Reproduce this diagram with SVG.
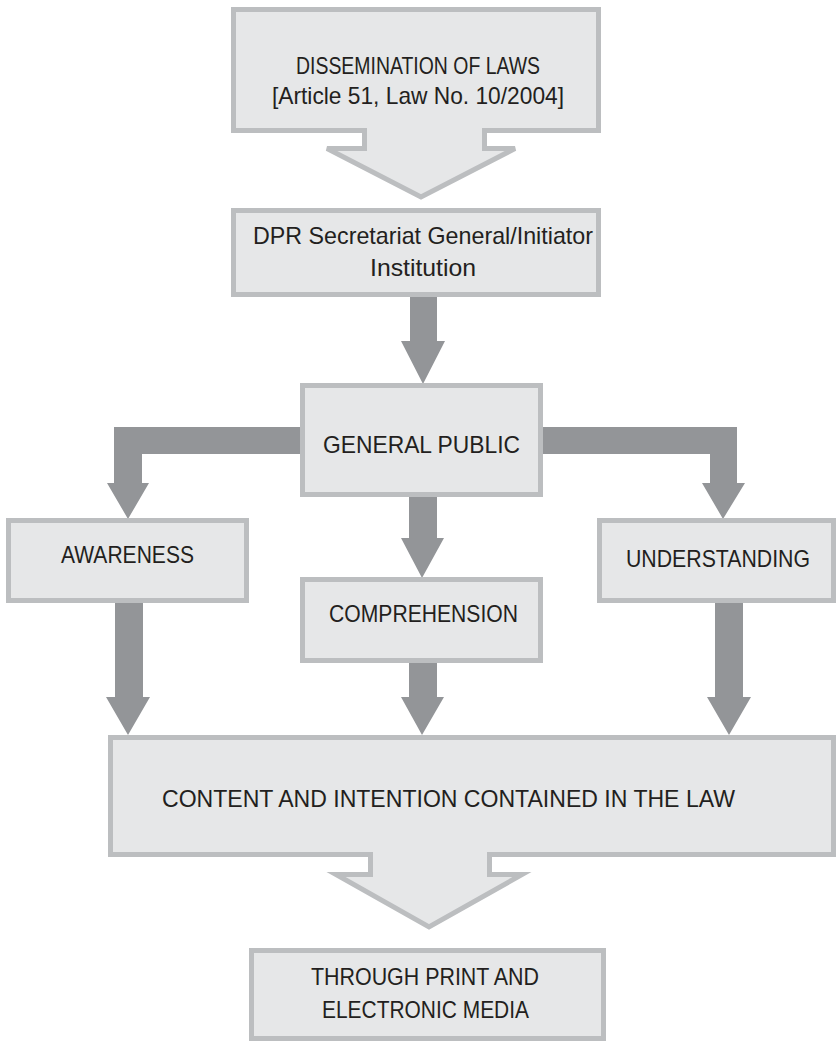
<svg xmlns="http://www.w3.org/2000/svg" width="839" height="1042" viewBox="0 0 839 1042">
<style>
.box{fill:#e6e7e8;stroke:#bcbec0;stroke-width:5;stroke-linejoin:miter}
.arr{fill:#939598;stroke:none}
text{font-family:"Liberation Sans",Arial,sans-serif;font-size:24px;fill:#231f20;text-anchor:middle}
</style>
<rect width="839" height="1042" fill="#ffffff"/>
<g id="connectors">
<polygon class="arr" points="410,297 437,297 437,341 445,341 423,384 401,341 410,341"/>
<polygon class="arr" points="302,427 114,427 114,483 107,483 128,519 149,483 142,483 142,454 302,454"/>
<polygon class="arr" points="541,427 737,427 737,483 745,483 723,519 702,483 710,483 710,454 541,454"/>
<polygon class="arr" points="409,495 437,495 437,538 444,538 422,578 401,538 409,538"/>
<polygon class="arr" points="115,601 143,601 143,697 150,697 128,735 106,697 115,697"/>
<polygon class="arr" points="409,661 437,661 437,697 444,697 422,735 401,697 409,697"/>
<polygon class="arr" points="715,601 743,601 743,697 751,697 729,735 707,697 715,697"/>
</g>
<g id="node-dissemination">
<polygon class="box" points="233.5,9.5 598.5,9.5 598.5,130.5 484.5,130.5 484.5,148.5 515,148.5 421,197 327,148.5 364.5,148.5 364.5,130.5 233.5,130.5"/>
<text x="418" y="74" textLength="244" lengthAdjust="spacingAndGlyphs">DISSEMINATION OF LAWS</text>
<text x="418" y="104" textLength="292" lengthAdjust="spacingAndGlyphs">[Article 51, Law No. 10/2004]</text>
</g>
<g id="node-dpr">
<rect class="box" x="233.5" y="210.5" width="365" height="84"/>
<text x="423" y="244" textLength="340" lengthAdjust="spacingAndGlyphs">DPR Secretariat General/Initiator</text>
<text x="423" y="276" textLength="106" lengthAdjust="spacingAndGlyphs">Institution</text>
</g>
<g id="node-general-public">
<rect class="box" x="302.5" y="385.5" width="238" height="109"/>
<text x="421.5" y="453" textLength="197" lengthAdjust="spacingAndGlyphs">GENERAL PUBLIC</text>
</g>
<g id="node-awareness">
<rect class="box" x="8.5" y="520.5" width="238" height="80"/>
<text x="127.5" y="563" textLength="133" lengthAdjust="spacingAndGlyphs">AWARENESS</text>
</g>
<g id="node-comprehension">
<rect class="box" x="302.5" y="579.5" width="238" height="81"/>
<text x="423.5" y="622" textLength="189" lengthAdjust="spacingAndGlyphs">COMPREHENSION</text>
</g>
<g id="node-understanding">
<rect class="box" x="599.5" y="520.5" width="234" height="80"/>
<text x="718" y="567" textLength="184" lengthAdjust="spacingAndGlyphs">UNDERSTANDING</text>
</g>
<g id="node-content">
<polygon class="box" points="110.5,737.5 833.5,737.5 833.5,854.5 489.5,854.5 489.5,874.5 522,874.5 429,927 336,874.5 370.5,874.5 370.5,854.5 110.5,854.5"/>
<text x="448.5" y="807" textLength="573" lengthAdjust="spacingAndGlyphs">CONTENT AND INTENTION CONTAINED IN THE LAW</text>
</g>
<g id="node-media">
<rect class="box" x="251.5" y="950.5" width="352" height="88"/>
<text x="425" y="985" textLength="228" lengthAdjust="spacingAndGlyphs">THROUGH PRINT AND</text>
<text x="425.5" y="1018" textLength="207" lengthAdjust="spacingAndGlyphs">ELECTRONIC MEDIA</text>
</g>
</svg>
